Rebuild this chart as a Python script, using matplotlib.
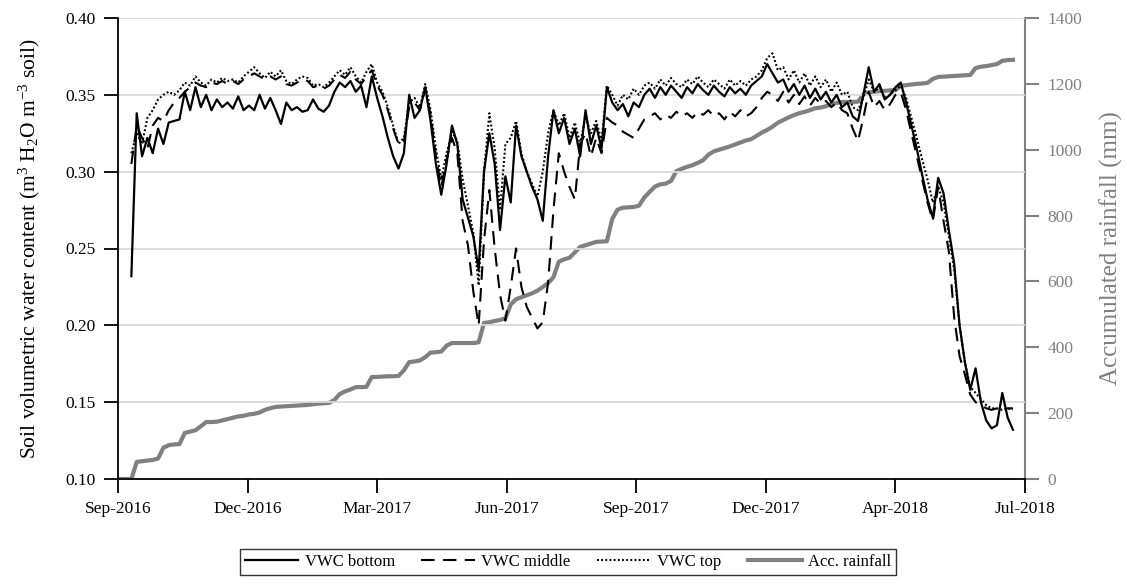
import matplotlib
matplotlib.use("Agg")
import matplotlib.pyplot as plt
import pandas as pd

plt.rcParams["font.family"] = ["Liberation Serif", "DejaVu Serif"]
plt.rcParams["mathtext.default"] = "regular"

# Sampling grid of the sensor series (every 4 days)
first_day = "2016-09-11"
step_days = 4

# Soil volumetric water content (m3 H2O m-3 soil)
vwc_bottom = [
    0.232, 0.338, 0.310, 0.322, 0.312, 0.328, 0.318, 0.332, 0.333, 0.334,
    0.352, 0.340, 0.355, 0.342, 0.350, 0.340, 0.347, 0.342, 0.345, 0.341,
    0.349, 0.340, 0.343, 0.340, 0.350, 0.341, 0.348, 0.340, 0.331, 0.345,
    0.340, 0.342, 0.339, 0.340, 0.347, 0.341, 0.339, 0.343, 0.352, 0.358,
    0.355, 0.359, 0.352, 0.356, 0.342, 0.362, 0.348, 0.336, 0.322, 0.310,
    0.302, 0.312, 0.350, 0.335, 0.340, 0.355, 0.333, 0.305, 0.285, 0.305,
    0.330, 0.318, 0.282, 0.270, 0.258, 0.236, 0.300, 0.325, 0.305, 0.262,
    0.297, 0.280, 0.330, 0.310, 0.300, 0.290, 0.282, 0.268, 0.310, 0.340,
    0.325, 0.335, 0.318, 0.328, 0.310, 0.340, 0.318, 0.330, 0.315, 0.355,
    0.345, 0.340, 0.344, 0.336, 0.345, 0.342, 0.350, 0.354, 0.348, 0.355,
    0.350, 0.356, 0.352, 0.348, 0.355, 0.351, 0.357, 0.353, 0.350, 0.356,
    0.352, 0.349, 0.355, 0.351, 0.354, 0.350, 0.356, 0.359, 0.362, 0.370,
    0.364, 0.358, 0.360, 0.352, 0.357, 0.350, 0.356, 0.348, 0.354, 0.347,
    0.352, 0.345, 0.350, 0.342, 0.345, 0.336, 0.333, 0.350, 0.368, 0.352,
    0.357, 0.347, 0.350, 0.355, 0.358, 0.345, 0.330, 0.315, 0.298, 0.282,
    0.270, 0.296, 0.286, 0.262, 0.240, 0.200, 0.176, 0.158, 0.172, 0.150,
    0.138, 0.133, 0.135, 0.156, 0.140, 0.132,
]
vwc_middle = [
    0.305, 0.330, 0.322, 0.315, 0.330, 0.335, 0.333, 0.340, 0.345, 0.348,
    0.352, 0.355, 0.358, 0.356, 0.355, 0.358, 0.357, 0.359, 0.357, 0.359,
    0.357, 0.360, 0.362, 0.364, 0.362, 0.360, 0.362, 0.360, 0.362, 0.357,
    0.356, 0.358, 0.360, 0.359, 0.355, 0.356, 0.354, 0.356, 0.360, 0.363,
    0.361, 0.365, 0.360, 0.357, 0.362, 0.366, 0.356, 0.350, 0.340, 0.328,
    0.318, 0.320, 0.342, 0.345, 0.340, 0.354, 0.337, 0.310, 0.290, 0.308,
    0.322, 0.312, 0.268, 0.252, 0.222, 0.200, 0.255, 0.288, 0.250, 0.220,
    0.203, 0.225, 0.250, 0.225, 0.212, 0.205, 0.198, 0.202, 0.228, 0.275,
    0.312, 0.300, 0.290, 0.282, 0.318, 0.325, 0.310, 0.322, 0.312, 0.335,
    0.332, 0.330, 0.326, 0.324, 0.322, 0.328, 0.334, 0.336, 0.338, 0.334,
    0.337, 0.335, 0.339, 0.336, 0.338, 0.335, 0.339, 0.337, 0.340, 0.336,
    0.338, 0.334, 0.339, 0.336, 0.340, 0.336, 0.338, 0.342, 0.348, 0.352,
    0.350, 0.346, 0.352, 0.345, 0.350, 0.344, 0.349, 0.343, 0.348, 0.344,
    0.346, 0.342, 0.345, 0.340, 0.338, 0.328, 0.320, 0.335, 0.352, 0.342,
    0.346, 0.340, 0.344, 0.350, 0.352, 0.340, 0.325, 0.310, 0.295, 0.280,
    0.268, 0.290, 0.268, 0.248, 0.205, 0.180, 0.168, 0.155, 0.150, 0.148,
    0.146, 0.145, 0.146, 0.145, 0.146, 0.146,
]
vwc_top = [
    0.312, 0.325, 0.318, 0.335, 0.340, 0.347, 0.350, 0.352, 0.350, 0.353,
    0.358, 0.356, 0.362, 0.358, 0.356, 0.360, 0.358, 0.361, 0.359, 0.360,
    0.358, 0.362, 0.365, 0.368, 0.364, 0.361, 0.365, 0.362, 0.366, 0.359,
    0.357, 0.360, 0.362, 0.361, 0.356, 0.357, 0.355, 0.358, 0.362, 0.366,
    0.363, 0.368, 0.362, 0.358, 0.365, 0.370, 0.358, 0.352, 0.342, 0.330,
    0.318, 0.322, 0.345, 0.348, 0.342, 0.357, 0.340, 0.315, 0.295, 0.312,
    0.326, 0.320, 0.295, 0.278, 0.260, 0.226, 0.300, 0.338, 0.315, 0.275,
    0.318, 0.322, 0.333, 0.312, 0.300, 0.292, 0.284, 0.300, 0.325, 0.340,
    0.330, 0.338, 0.322, 0.332, 0.318, 0.336, 0.325, 0.333, 0.320, 0.356,
    0.350, 0.343, 0.350, 0.347, 0.354, 0.350, 0.356, 0.358, 0.354, 0.360,
    0.356, 0.361, 0.357, 0.355, 0.360, 0.357, 0.362, 0.358, 0.355, 0.360,
    0.357, 0.354, 0.360, 0.356, 0.359, 0.356, 0.360, 0.362, 0.366, 0.374,
    0.377, 0.366, 0.368, 0.360, 0.366, 0.358, 0.364, 0.356, 0.362, 0.355,
    0.360, 0.352, 0.358, 0.350, 0.352, 0.342, 0.340, 0.348, 0.360, 0.352,
    0.355, 0.348, 0.350, 0.353, 0.356, 0.348, 0.335, 0.322, 0.308, 0.295,
    0.280, 0.290, 0.280, 0.258, 0.236, 0.200, 0.176, 0.160, 0.156, 0.152,
    0.148, 0.146, 0.146, 0.145, 0.146, 0.145,
]

# Accumulated rainfall (mm) on the same grid, plus the zero at the start of records
rain_start = "2016-09-01"
acc_rainfall = [
    0, 52, 54, 56, 58, 62, 95, 103, 105, 106,
    140, 144, 148, 160, 173, 173, 174, 178, 182, 186,
    190, 192, 196, 198, 202, 210, 215, 219, 220, 221,
    222, 223, 224, 225, 227, 229, 230, 231, 240, 258,
    266, 272, 279, 279, 280, 310, 310, 311, 312, 312,
    313, 330, 355, 357, 360, 370, 384, 385, 387, 405,
    413, 413, 413, 413, 413, 415, 474, 476, 480, 483,
    488, 530, 546, 552, 558, 564, 572, 583, 595, 613,
    660, 667, 672, 688, 705, 710, 715, 720, 721, 722,
    790, 818, 824, 825, 826, 830, 855, 872, 888, 895,
    897, 905, 935, 942, 948, 953, 960, 968, 985, 995,
    1000, 1005, 1010, 1016, 1022, 1028, 1032, 1042, 1052, 1060,
    1070, 1082, 1090, 1098, 1105, 1111, 1115, 1120, 1126, 1128,
    1132, 1138, 1142, 1145, 1145, 1145, 1146, 1168, 1174, 1176,
    1178, 1179, 1180, 1181, 1194, 1196, 1198, 1200, 1201, 1203,
    1215, 1221, 1222, 1223, 1224, 1225, 1226, 1227, 1248, 1252,
    1254, 1257, 1260, 1270, 1272, 1273,
]

# Date axis: ticks every 97 days from the start of records
axis_start = "2016-09-01"
tick_step_days = 97
n_ticks = 8

dates = pd.date_range(first_day, periods=len(vwc_bottom), freq=f"{step_days}D")
rain_dates = pd.DatetimeIndex([pd.Timestamp(rain_start)]).append(dates)
rain_values = [0] + acc_rainfall

GRAY = "#808080"

fig = plt.figure(figsize=(11.27, 5.84), dpi=100)
ax = fig.add_axes([118 / 1127, 1 - 479 / 584, (1025 - 118) / 1127, (479 - 18) / 584])
ax2 = ax.twinx()
ax.set_zorder(ax2.get_zorder() + 1)
ax.patch.set_visible(False)

h_rain, = ax2.plot(rain_dates, rain_values, color=GRAY, lw=3.0,
                   solid_joinstyle="round", label="Acc. rainfall")

h_bot, = ax.plot(dates, vwc_bottom, color="black", lw=1.6, label="VWC bottom")
h_mid, = ax.plot(dates, vwc_middle, color="black", lw=1.5,
                 linestyle=(0, (6.5, 4)), label="VWC middle")
h_top, = ax.plot(dates, vwc_top, color="black", lw=1.5,
                 linestyle=(0, (0.9, 1.1)), label="VWC top")

t0 = pd.Timestamp(axis_start)
ticks = [t0 + pd.Timedelta(days=tick_step_days * k) for k in range(n_ticks)]
ax.set_xlim(ticks[0], ticks[-1])
ax.set_xticks(ticks)
ax.set_xticklabels([t.strftime("%b-%Y") for t in ticks])

yvals = [0.10, 0.15, 0.20, 0.25, 0.30, 0.35, 0.40]
ax.set_ylim(0.10, 0.40)
ax.set_yticks(yvals)
ax.set_yticklabels([f"{v:.2f}" for v in yvals])
ax.grid(axis="y", color="#d9d9d9", lw=1.3)
ax.set_axisbelow(True)

ax2.set_ylim(0, 1400)
ax2.set_yticks(range(0, 1401, 200))

for s in ["top", "right"]:
    ax.spines[s].set_visible(False)
ax.spines["left"].set_color("black")
ax.spines["bottom"].set_color("black")
ax.spines["left"].set_linewidth(1.3)
ax.spines["bottom"].set_linewidth(1.3)
for s in ["top", "left", "bottom"]:
    ax2.spines[s].set_visible(False)
ax2.spines["right"].set_color(GRAY)
ax2.spines["right"].set_linewidth(1.5)

ax.tick_params(axis="both", direction="out", length=10, width=1.3,
               labelsize=12.5, colors="black", pad=6)
ax2.tick_params(axis="y", direction="out", length=10, width=1.5,
                labelsize=12.5, colors=GRAY, pad=6)

ax.set_ylabel("Soil volumetric water content (m$^{3}$ H$_{2}$O m$^{-3}$ soil)",
              fontsize=15.5, labelpad=17)
ax2.set_ylabel("Accumulated rainfall (mm)", fontsize=18, color=GRAY, labelpad=13)

leg = fig.legend(handles=[h_bot, h_mid, h_top, h_rain], loc="center",
                 bbox_to_anchor=(0.504, 0.038), ncol=4, fontsize=12,
                 frameon=True, fancybox=False, edgecolor="black",
                 handlelength=3.2, handletextpad=0.4, columnspacing=1.6,
                 borderpad=0.3)
leg.get_frame().set_linewidth(1.0)

fig.savefig("out.png", dpi=100)
